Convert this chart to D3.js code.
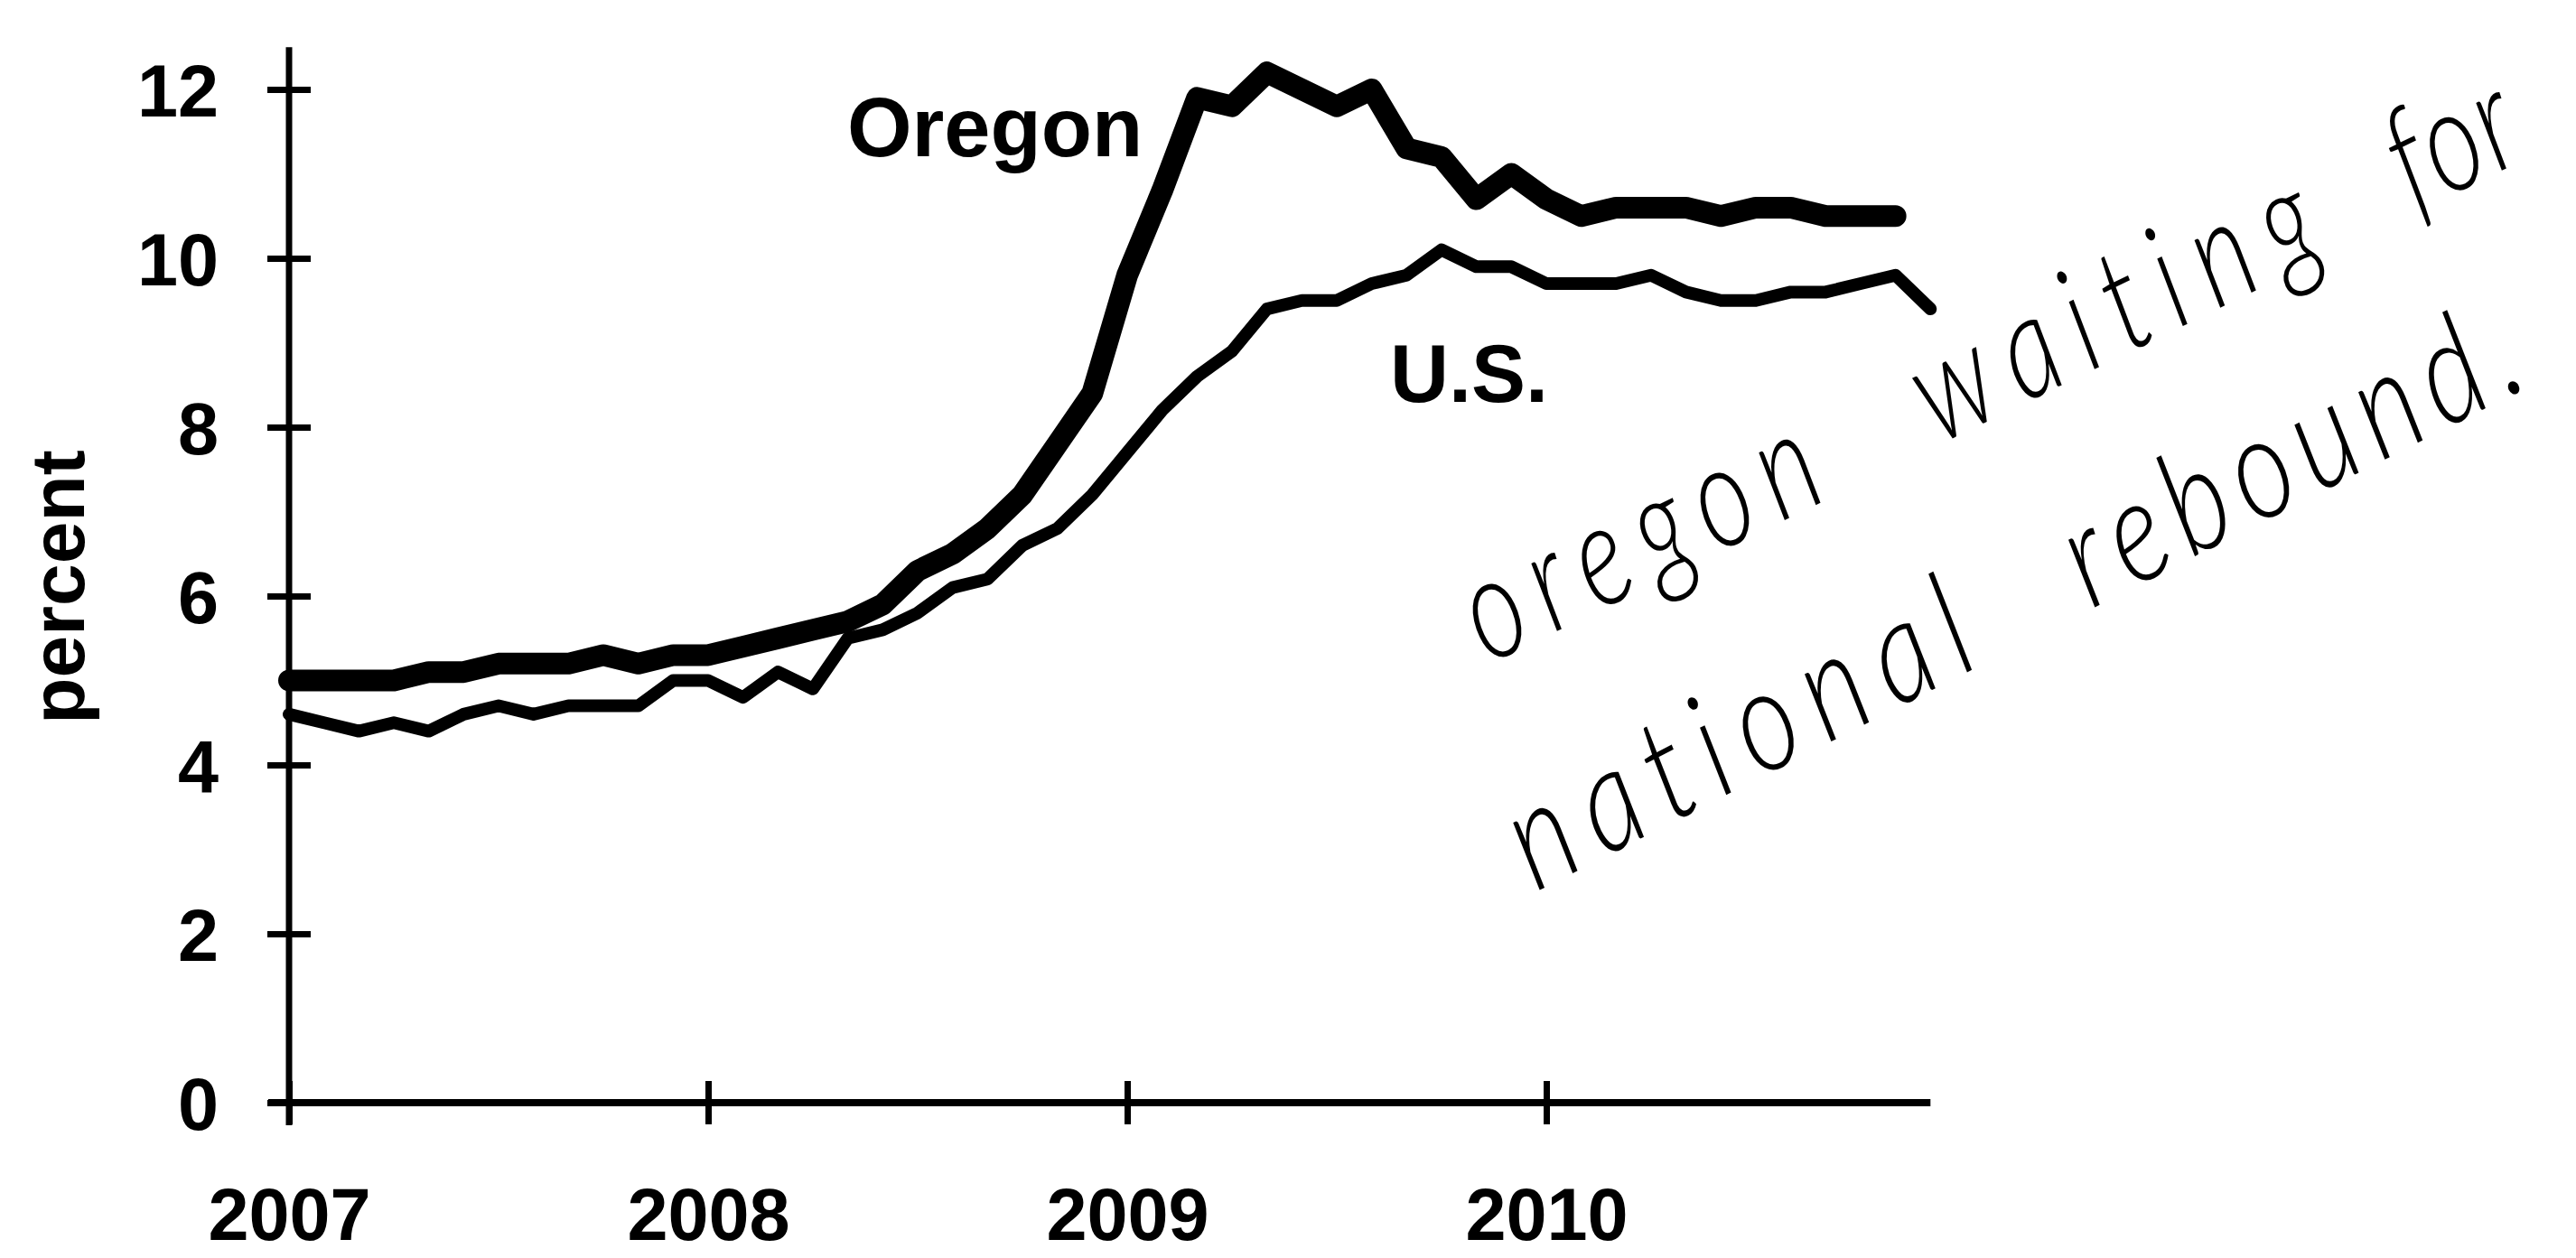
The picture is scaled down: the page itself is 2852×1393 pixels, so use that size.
<!DOCTYPE html>
<html>
  <head>
    <meta charset="utf-8">
    <title>Oregon vs U.S. unemployment</title>
    <script src="https://cdn.jsdelivr.net/npm/d3@7/dist/d3.min.js"></script>
    <style>
      body { margin: 0; background: #fff; }
    </style>
  </head>
  <body>
  </body>

  <script>

    // monthly unemployment rate, Jan 2007 onward
    var oregon = [
      5.0, 5.0, 5.0, 5.0, 5.1, 5.1, 5.2, 5.2, 5.2, 5.3, 5.2, 5.3,
      5.3, 5.4, 5.5, 5.6, 5.7, 5.9, 6.3, 6.5, 6.8, 7.2, 7.8, 8.4,
      9.8, 10.8, 11.9, 11.8, 12.2, 12.0, 11.8, 12.0, 11.3, 11.2, 10.7, 11.0,
      10.7, 10.5, 10.6, 10.6, 10.6, 10.5, 10.6, 10.6, 10.5, 10.5, 10.5
    ];
    var us = [
      4.6, 4.5, 4.4, 4.5, 4.4, 4.6, 4.7, 4.6, 4.7, 4.7, 4.7, 5.0,
      5.0, 4.8, 5.1, 4.9, 5.5, 5.6, 5.8, 6.1, 6.2, 6.6, 6.8, 7.2,
      7.7, 8.2, 8.6, 8.9, 9.4, 9.5, 9.5, 9.7, 9.8, 10.1, 9.9, 9.9,
      9.7, 9.7, 9.7, 9.8, 9.6, 9.5, 9.5, 9.6, 9.6, 9.7, 9.8, 9.4
    ];
    var yearLabels = ["2007", "2008", "2009", "2010"];
    var yearTicks = [0, 12, 24, 36];   // month index of each January
    var yTicks = [0, 2, 4, 6, 8, 10, 12];
    var noteLine1 = ["oregon", "waiting", "for"];
    var noteLine2 = ["national", "rebound."];

    var W = 2852, H = 1393;

    var svg = d3.select("body").append("svg")
        .attr("width", W)
        .attr("height", H)
        .style("font-family", "'Liberation Sans', Arial, sans-serif")
        .style("font-weight", "bold");

    var x = d3.scaleLinear().domain([0, 47]).range([320, 2137.3]);
    var y = d3.scaleLinear().domain([0, 12.5]).range([1221, 52.25]);

    // y axis
    var yAxis = svg.append("g")
        .attr("transform", "translate(" + x(0) + ",0)")
        .call(d3.axisLeft(y).tickValues(yTicks).tickSizeInner(24).tickSizeOuter(0).tickPadding(54));
    yAxis.select(".domain").remove();
    yAxis.selectAll(".tick line")
        .attr("x1", -24).attr("x2", 24)
        .attr("stroke", "#000").attr("stroke-width", 7);
    yAxis.selectAll(".tick text")
        .attr("dy", "0.36em")
        .attr("fill", "#000")
        .style("font-size", "81px");

    // x axis
    var xAxis = svg.append("g")
        .attr("transform", "translate(0," + y(0) + ")")
        .call(d3.axisBottom(x).tickValues(yearTicks)
          .tickFormat(function (d, i) { return yearLabels[i]; })
          .tickSizeInner(24).tickSizeOuter(0).tickPadding(70));
    xAxis.select(".domain").remove();
    xAxis.selectAll(".tick line")
        .attr("y1", -24).attr("y2", 24)
        .attr("stroke", "#000").attr("stroke-width", 7);
    xAxis.selectAll(".tick text")
        .attr("fill", "#000")
        .style("font-size", "81px");

    // axis lines, drawn by hand so they cross like the original
    svg.append("line")
        .attr("x1", x(0)).attr("x2", x(0))
        .attr("y1", y(12.5)).attr("y2", y(0) + 25)
        .attr("stroke", "#000").attr("stroke-width", 7);
    svg.append("line")
        .attr("x1", x(0) - 23).attr("x2", x(47))
        .attr("y1", y(0)).attr("y2", y(0))
        .attr("stroke", "#000").attr("stroke-width", 8);

    var line = d3.line()
        .x(function (d, i) { return x(i); })
        .y(function (d) { return y(d); });

    svg.append("path")
        .datum(us)
        .attr("d", line)
        .attr("fill", "none")
        .attr("stroke", "#000")
        .attr("stroke-width", 14)
        .attr("stroke-linejoin", "round")
        .attr("stroke-linecap", "round");

    svg.append("path")
        .datum(oregon)
        .attr("d", line)
        .attr("fill", "none")
        .attr("stroke", "#000")
        .attr("stroke-width", 24)
        .attr("stroke-linejoin", "round")
        .attr("stroke-linecap", "round");

    // series labels
    svg.append("text")
        .attr("x", 938).attr("y", 173)
        .style("font-size", "92px")
        .text("Oregon");
    svg.append("text")
        .attr("x", 1539).attr("y", 445)
        .style("font-size", "90px")
        .text("U.S.");

    // y title
    svg.append("text")
        .attr("transform", "translate(93,650) rotate(-90)")
        .attr("text-anchor", "middle")
        .style("font-size", "84px")
        .text("percent");

    // handwritten note: narrow letters, words spread along a slanted baseline
    var hand = svg.append("g")
        .style("font-family", "Lato, 'DejaVu Sans', sans-serif")
        .style("font-weight", "300")
        .style("font-style", "italic")
        .style("font-size", "160px");

    function noteRow(words, ox, oy, angle, sx, starts, lengths) {
      var g = hand.append("g")
          .attr("transform", "translate(" + ox + "," + oy + ") rotate(" + angle + ") scale(" + sx + ",1)");
      g.selectAll("text").data(words).enter().append("text")
          .attr("x", function (d, i) { return starts[i] / sx; })
          .text(function (d) { return d; })
          .each(function (d, i) {
            // spread the letters so each word covers its span
            var w = this.getComputedTextLength();
            var ls = (lengths[i] / sx - w) / d.length;
            d3.select(this).style("letter-spacing", ls + "px");
          });
    }

    noteRow(noteLine1, 1648, 736, -26, 0.75, [0, 555, 1141], [440, 500, 145]);
    noteRow(noteLine2, 1700, 988, -27, 0.8, [0, 690], [575, 560]);

  </script>

</html>
